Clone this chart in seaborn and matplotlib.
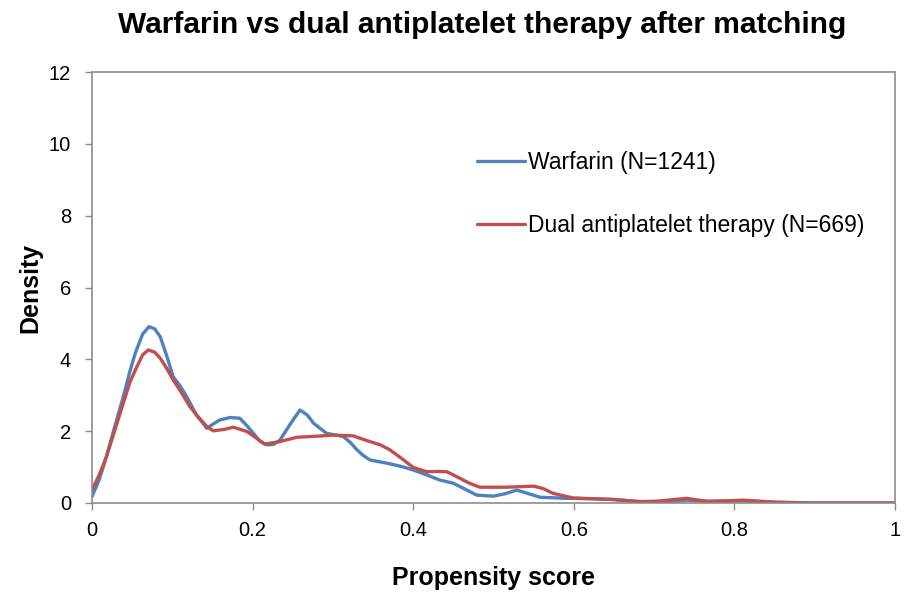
import numpy as np
import pandas as pd
import matplotlib
matplotlib.use('Agg')
import matplotlib.pyplot as plt
import seaborn as sns

# density curves
warf_x = [0, 0.009, 0.018, 0.028, 0.039, 0.047, 0.054, 0.063, 0.071, 0.078, 0.085, 0.093,
          0.101, 0.110, 0.118, 0.130, 0.143, 0.151, 0.159, 0.172, 0.184, 0.193, 0.201,
          0.209, 0.217, 0.226, 0.234, 0.247, 0.259, 0.268, 0.276, 0.292, 0.313, 0.322,
          0.330, 0.338, 0.346, 0.367, 0.385, 0.400, 0.417, 0.433, 0.450, 0.465, 0.479,
          0.500, 0.515, 0.529, 0.545, 0.558, 0.591, 0.62, 0.65, 0.68, 0.71, 0.74, 0.77,
          0.81, 0.85, 0.9, 1.0]
warf_y = [0.18, 0.65, 1.29, 2.10, 2.96, 3.65, 4.18, 4.70, 4.91, 4.85, 4.63, 4.10,
          3.52, 3.25, 2.96, 2.45, 2.08, 2.20, 2.31, 2.38, 2.36, 2.15, 1.94,
          1.72, 1.62, 1.63, 1.75, 2.20, 2.59, 2.45, 2.22, 1.94, 1.85, 1.68,
          1.48, 1.32, 1.20, 1.11, 1.02, 0.92, 0.78, 0.64, 0.55, 0.38, 0.22,
          0.19, 0.26, 0.36, 0.25, 0.16, 0.13, 0.12, 0.10, 0.04, 0.03, 0.08, 0.04,
          0.06, 0.02, 0.0, 0.0]

dapt_x = [0, 0.009, 0.018, 0.028, 0.039, 0.047, 0.056, 0.063, 0.070, 0.078, 0.085, 0.093,
          0.101, 0.112, 0.122, 0.133, 0.143, 0.151, 0.165, 0.176, 0.193, 0.204, 0.215,
          0.234, 0.255, 0.280, 0.301, 0.325, 0.342, 0.359, 0.371, 0.385, 0.400, 0.417,
          0.430, 0.442, 0.458, 0.470, 0.483, 0.516, 0.550, 0.562, 0.574, 0.599, 0.645,
          0.682, 0.703, 0.722, 0.740, 0.765, 0.790, 0.811, 0.853, 0.9, 1.0]
dapt_y = [0.36, 0.78, 1.29, 2.00, 2.78, 3.35, 3.80, 4.12, 4.26, 4.20, 4.03, 3.75,
          3.43, 3.05, 2.68, 2.38, 2.13, 2.01, 2.05, 2.11, 1.99, 1.82, 1.64,
          1.71, 1.83, 1.86, 1.89, 1.87, 1.74, 1.62, 1.48, 1.25, 0.99, 0.87,
          0.88, 0.87, 0.69, 0.55, 0.44, 0.44, 0.47, 0.40, 0.27, 0.14, 0.10,
          0.04, 0.05, 0.09, 0.13, 0.05, 0.06, 0.08, 0.02, 0.0, 0.0]

labels = ['Warfarin (N=1241)', 'Dual antiplatelet therapy (N=669)']
x_ticks = [0, 0.2, 0.4, 0.6, 0.8, 1]
x_ticklabels = ['0', '0.2', '0.4', '0.6', '0.8', '1']
y_ticks = [0, 2, 4, 6, 8, 10, 12]

df = pd.concat([
    pd.DataFrame({'score': warf_x, 'density': warf_y, 'group': labels[0]}),
    pd.DataFrame({'score': dapt_x, 'density': dapt_y, 'group': labels[1]}),
])

sns.set_style('white')
plt.rcParams['font.family'] = ['Liberation Sans', 'DejaVu Sans']
plt.rcParams['text.color'] = 'black'
plt.rcParams['axes.labelcolor'] = 'black'
plt.rcParams['xtick.color'] = 'black'
plt.rcParams['ytick.color'] = 'black'

fig = plt.figure(figsize=(9.05, 5.95), dpi=100)
ax = fig.add_axes([92/905, 1 - 503/595, 803/905, 431/595])

sns.lineplot(data=df, x='score', y='density', hue='group', hue_order=labels,
             palette=['#4F81BD', '#C0504D'], linewidth=2.4, ax=ax, sort=True)

ax.set_xlim(0, 1)
ax.set_ylim(0, 12)
ax.set_xticks(x_ticks)
ax.set_xticklabels(x_ticklabels)
ax.set_yticks(y_ticks)
ax.tick_params(axis='both', direction='out', length=5, width=1, color='#8C8C8C',
               labelsize=14.5, left=True, bottom=True)
ax.tick_params(axis='y', pad=10)
ax.tick_params(axis='x', pad=8)
for s in ax.spines.values():
    s.set_color('#8C8C8C')
    s.set_linewidth(1.2)

ax.set_xlabel('Propensity score', fontsize=18, fontweight='bold', va='center')
ax.set_ylabel('Density', fontsize=18, fontweight='bold', va='center')
ax.xaxis.set_label_coords(0.5, -(578 - 503) / 431)
ax.yaxis.set_label_coords((30 - 92) / 803, 0.5)

fig.text(482/905, 1 - 25/595, 'Warfarin vs dual antiplatelet therapy after matching',
         ha='center', va='center', fontsize=21.5, fontweight='bold')

leg = ax.legend(frameon=False, fontsize=16.5, loc='upper left',
                bbox_to_anchor=(456/905, 1 - 130/595), bbox_transform=fig.transFigure,
                handlelength=2.1, handletextpad=0.15, labelspacing=1.75)

plt.savefig('out.png', dpi=100)
